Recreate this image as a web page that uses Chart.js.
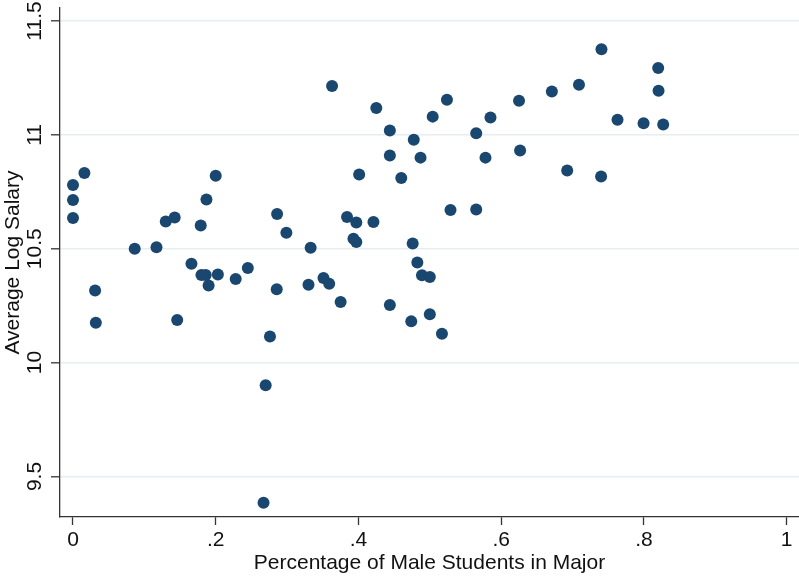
<!DOCTYPE html>
<html>
<head>
<meta charset="utf-8">
<script src="https://cdn.jsdelivr.net/npm/chart.js@4/dist/chart.umd.min.js"></script>
<style>
  html, body { margin: 0; padding: 0; background: #fff; overflow: hidden; }
  #wrap { width: 799px; height: 577px; }
</style>
</head>
<body>
<div id="wrap"><canvas id="scatter"></canvas></div>
<script>
// --- data ---
const maleShare = [
  0, 0, 0, 0.016, 0.031, 0.032, 0.0865, 0.117, 0.13, 0.1425,
  0.146, 0.166, 0.179, 0.18, 0.186, 0.187, 0.19, 0.2, 0.203, 0.228,
  0.245, 0.267, 0.27, 0.276, 0.286, 0.2855, 0.299, 0.33, 0.333, 0.351,
  0.359, 0.363, 0.375, 0.384, 0.393, 0.397, 0.397, 0.401, 0.421, 0.425,
  0.444, 0.444, 0.444, 0.46, 0.474, 0.476, 0.4775, 0.4825, 0.487, 0.489,
  0.5, 0.5, 0.504, 0.517, 0.524, 0.529, 0.565, 0.565, 0.578, 0.585,
  0.625, 0.6265, 0.671, 0.6925, 0.709, 0.74, 0.7405, 0.763, 0.7995, 0.82,
  0.8205, 0.827
];
const logSalary = [
  10.78, 10.714, 10.635, 10.832, 10.317, 10.175, 10.5, 10.506, 10.62, 10.637,
  10.187, 10.434, 10.602, 10.385, 10.385, 10.716, 10.339, 10.82, 10.387, 10.367,
  10.415, 9.385, 9.9, 10.115, 10.652, 10.322, 10.57, 10.342, 10.504, 10.371,
  10.346, 11.215, 10.266, 10.639, 10.544, 10.615, 10.529, 10.826, 10.617, 11.118,
  11.019, 10.909, 10.253, 10.811, 10.181, 10.523, 10.978, 10.439, 10.9, 10.383,
  10.376, 10.212, 11.08, 10.127, 11.154, 10.67, 11.007, 10.672, 10.9, 11.076,
  11.15, 10.931, 11.19, 10.843, 11.22, 10.817, 11.376, 11.066, 11.051, 11.294,
  11.194, 11.045
];
const xTicks = [0, 0.2, 0.4, 0.6, 0.8, 1];
const xTickLabels = ['0', '.2', '.4', '.6', '.8', '1'];
const yTicks = [9.5, 10, 10.5, 11, 11.5];
const yTickLabels = ['9.5', '10', '10.5', '11', '11.5'];

const FONT = 'Liberation Sans, Arial, sans-serif';
const INK = '#111';

// y tick labels are rotated in the original, Chart.js can't rotate them on a vertical axis
const rotatedYLabels = {
    id: 'rotatedYLabels',
    afterDraw(chart) {
        const ys = chart.scales.y;
        const ctx = chart.ctx;
        ctx.save();
        ctx.fillStyle = INK;
        ctx.font = '21px ' + FONT;
        ctx.textAlign = 'center';
        ctx.textBaseline = 'middle';
        yTicks.forEach((v, i) => {
            const py = ys.getPixelForValue(v);
            ctx.save();
            ctx.translate(35, py);
            ctx.rotate(-Math.PI / 2);
            ctx.fillText(yTickLabels[i], 0, 0);
            ctx.restore();
        });
        ctx.restore();
    }
};

const points = maleShare.map((x, i) => ({ x: x, y: logSalary[i] }));

new Chart(document.getElementById('scatter'), {
    type: 'scatter',
    data: {
        datasets: [{
            data: points,
            backgroundColor: '#1a476f',
            borderWidth: 0,
            pointRadius: 6,
            pointHoverRadius: 6
        }]
    },
    options: {
        responsive: true,
        maintainAspectRatio: false,
        animation: false,
        layout: {
            autoPadding: false, // no room reserved for the "1" label, axis runs to the edge
            padding: { top: 8, right: 0, bottom: 0, left: 0 }
        },
        scales: {
            x: {
                type: 'linear',
                min: -0.0182,
                max: 1.0173,
                afterBuildTicks: s => { s.ticks = xTicks.map(v => ({ value: v })); },
                afterFit: s => { s.height = 60; },
                ticks: {
                    padding: 3,
                    color: INK,
                    font: { family: FONT, size: 21 },
                    maxRotation: 0,
                    callback: (v) => xTickLabels[xTicks.indexOf(v)] ?? ''
                },
                grid: {
                    drawOnChartArea: false,
                    drawTicks: true,
                    tickLength: 8,
                    tickColor: '#333',
                    tickWidth: 1.3
                },
                border: { color: '#333', width: 1.3 },
                title: {
                    display: true,
                    text: 'Percentage of Male Students in Major',
                    color: INK,
                    font: { family: FONT, size: 21 },
                    padding: { top: 0, bottom: 1.5 }
                }
            },
            y: {
                type: 'linear',
                min: 9.322,
                max: 11.557,
                afterBuildTicks: s => { s.ticks = yTicks.map(v => ({ value: v })); },
                afterFit: s => { s.width = 60; },
                ticks: { display: false },
                grid: {
                    color: '#e7eef1',
                    lineWidth: 1.6,
                    drawTicks: true,
                    tickLength: 9,
                    tickColor: '#333',
                    tickWidth: 1.3
                },
                border: { color: '#333', width: 1.3 },
                title: {
                    display: true,
                    text: 'Average Log Salary',
                    color: INK,
                    font: { family: FONT, size: 21 },
                    padding: { top: 1, bottom: 0 }
                }
            }
        },
        plugins: {
            legend: { display: false },
            tooltip: { enabled: false }
        }
    },
    plugins: [rotatedYLabels]
});
</script>
</body>
</html>
